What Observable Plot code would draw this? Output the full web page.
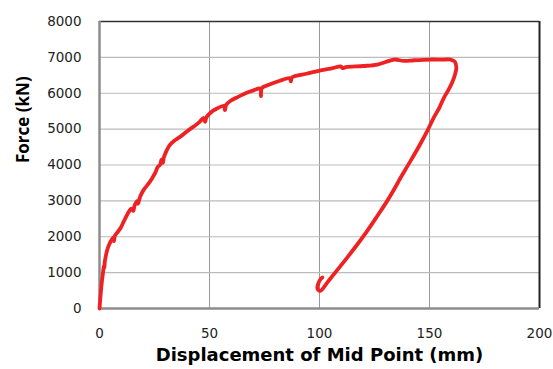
<!DOCTYPE html>
<html>
<head>
<meta charset="utf-8">
<script src="https://cdn.jsdelivr.net/npm/d3@7"></script>
<script src="https://cdn.jsdelivr.net/npm/@observablehq/plot@0.6"></script>
<style>
  html, body { margin: 0; padding: 0; background: #fff; }
</style>
</head>
<body>
<div id="chart"></div>
<script>
const xTicks = [0, 50, 100, 150, 200];
const yTicks = [0, 1000, 2000, 3000, 4000, 5000, 6000, 7000, 8000];
const xLabel = "Displacement of Mid Point (mm)";
const yLabel = "Force (kN)";

const displacement = [
  0, 0.4, 1.0, 1.6, 2.0, 2.2, 2.4, 3.0, 3.6, 4.5, 5.6, 6.4, 6.6, 7.0, 8.5, 9.7, 11, 12.7, 14.5, 15.3, 16, 17.3, 17.5, 18.5, 20, 22.5, 24, 25.5, 26.5, 27.5, 28.2, 28.8, 29.2, 30.5, 32, 34, 37, 40, 43, 45.5, 47.3, 48, 48.6, 50.6, 53, 56.5, 57, 57.6, 59.6, 63, 67.2, 70, 73, 73.4, 73.8, 77.8, 82, 86.5, 87, 87.5, 94.5, 100.5, 106, 109.6, 110.5, 112, 120, 126.3, 130, 134, 138.4, 143, 150.5, 156, 159.6,
  161.5, 162.2, 161.5, 160.3, 158.5, 156.6, 154.5, 152, 149, 145.5, 141.4, 139, 136.9, 134, 130.8, 126.5, 121.7, 117, 112.6, 109.5, 106.6, 103.5, 100.5, 99.4, 99, 99.6, 100.5, 101.3
];
const force = [
  0, 300, 700, 1000, 1200, 1130, 1300, 1500, 1650, 1800, 1920, 1990, 1880, 2030, 2150, 2260, 2420, 2630, 2780, 2720, 2880, 3000, 2920, 3120, 3300, 3500, 3640, 3800, 3950, 4000, 4150, 4060, 4200, 4400, 4560, 4675, 4800, 4950, 5080, 5200, 5310, 5200, 5330, 5465, 5560, 5650, 5530, 5680, 5790, 5900, 6020, 6080, 6130, 5920, 6140, 6255, 6350, 6420, 6330, 6440, 6550, 6640, 6700, 6750, 6700, 6730, 6760, 6800, 6870, 6940, 6900, 6920, 6940, 6935, 6940,
  6880, 6720, 6500, 6300, 6080, 5880, 5600, 5325, 4950, 4550, 4115, 3870, 3650, 3330, 3000, 2600, 2165, 1770, 1420, 1180, 960, 720, 495, 520, 585, 720, 820, 865
];

const data = displacement.map((d, i) => ({d, f: force[i]}));

const chart = Plot.plot({
  width: 553,
  height: 369,
  marginLeft: 99,
  marginRight: 14,
  marginTop: 21,
  marginBottom: 61,
  style: {
    fontFamily: "DejaVu Sans",
    fontSize: "13.5px",
    background: "#fff",
    color: "#222"
  },
  x: {domain: [0, 200], ticks: xTicks},
  y: {domain: [0, 8000], ticks: yTicks},
  marks: [
    Plot.gridX(xTicks, {stroke: "#999", strokeOpacity: 1, strokeWidth: 1}),
    Plot.gridY(yTicks, {stroke: "#bbb", strokeOpacity: 1, strokeWidth: 1.2}),
    Plot.ruleY([8000], {stroke: "#333", strokeWidth: 1.5}),
    Plot.ruleX([200], {stroke: "#222", strokeWidth: 2}),
    Plot.ruleX([0], {stroke: "#8c8c8c", strokeWidth: 2.5}),
    Plot.ruleY([0], {stroke: "#8c8c8c", strokeWidth: 2.5}),
    Plot.line(data, {x: "d", y: "f", stroke: "#ee2222", strokeWidth: 3.8, strokeLinejoin: "round", strokeLinecap: "round", curve: "catmull-rom"}),
    Plot.axisX(xTicks, {tickSize: 0, tickPadding: 20, label: null}),
    Plot.axisY(yTicks, {tickSize: 0, tickPadding: 18, label: null, tickFormat: "d"}),
    Plot.text([xLabel], {frameAnchor: "bottom", dy: 52, fontWeight: "bold", fontSize: 18, fill: "#000", fontFamily: "DejaVu Sans"}),
    Plot.text([yLabel], {frameAnchor: "left", rotate: -90, dx: -76, dy: -2, fontWeight: "bold", fontSize: 17, fill: "#000", fontFamily: "Open Sans"})
  ]
});

document.getElementById("chart").appendChild(chart);
</script>
</body>
</html>
